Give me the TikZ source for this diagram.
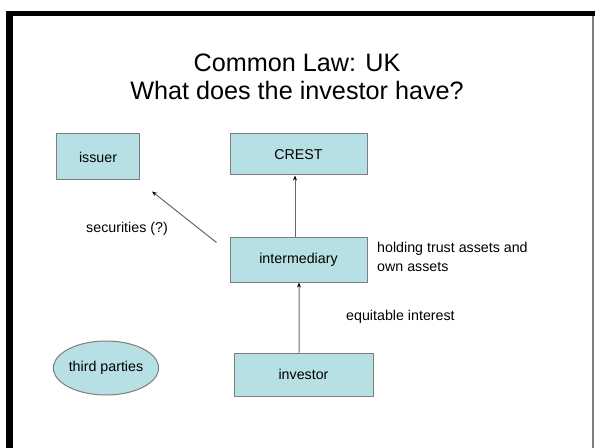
\documentclass[tikz,border=0pt]{standalone}
\usepackage{fontspec}
\setmainfont{Liberation Sans}
\usetikzlibrary{arrows.meta,shapes.geometric}
\definecolor{boxfill}{RGB}{183,224,228}
\definecolor{boxline}{RGB}{125,125,125}
\definecolor{arrline}{RGB}{105,105,105}
\tikzset{
  box/.style={draw=boxline, line width=1bp, fill=boxfill, inner sep=0pt,
    font=\fontsize{14.3}{17}\selectfont},
  oval/.style={box, ellipse},
  lbl/.style={font=\fontsize{14.3}{19}\selectfont, inner sep=0pt},
  arr/.style={draw=arrline, line width=1bp, -{Stealth[length=5bp,width=4bp,color=black]}},
}
\begin{document}
\begin{tikzpicture}[x=1bp,y=-1bp]
\useasboundingbox (0,0) rectangle (595,448);
% frame
\fill[black] (6,11) rectangle (595,16.5);
\fill[black] (6,11) rectangle (13,448);
\draw[boxline, line width=1.2bp] (593,16) -- (593,448);
% title
\node[align=center, font=\fontsize{25.3}{28.5}\selectfont, inner sep=0pt] (title) at (297,77) {Common Law: UK\\What does the investor have?};
% nodes
\node[box, minimum width=83bp, minimum height=46bp] (issuer) at (98,157) {issuer};
\node[box, minimum width=137bp, minimum height=41bp] (crest) at (298.5,154.5) {CREST};
\node[box, minimum width=137bp, minimum height=44bp] (inter) at (298.5,260) {intermediary};
\node[box, minimum width=139bp, minimum height=43bp] (investor) at (303.5,374.5) {investor};
\node[oval, minimum width=101bp, minimum height=54bp] (third) at (106,368) {third parties};
% connectors
\draw[arr] ([xshift=-3.5bp]inter.north) -- ([xshift=-3.5bp]crest.south);
\draw[arr] ([xshift=-4.5bp]investor.north) -- ([xshift=0.5bp]inter.south);
\draw[arr] ([shift={(-13,5)}]inter.north west) -- ([shift={(12,11)}]issuer.south east);
% labels
\node[lbl] (sec) at (127,229) {securities (?)};
\node[lbl, anchor=west, align=left] (hold) at (377,256.5) {holding trust assets and\\own assets};
\node[lbl, anchor=west] (equit) at (346,317) {equitable interest};
\end{tikzpicture}
\end{document}
